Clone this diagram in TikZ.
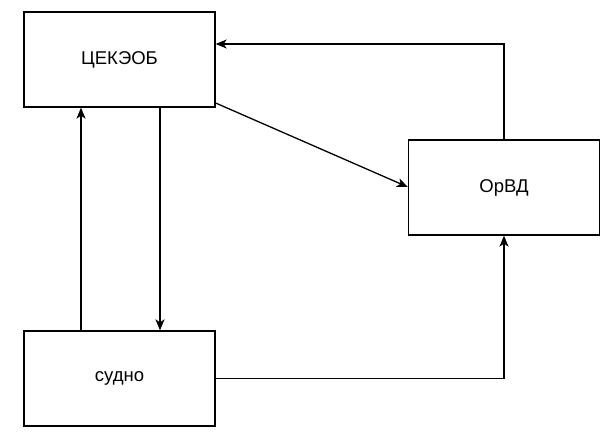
\documentclass[tikz,border=0pt]{standalone}
\usepackage{fontspec}
\setmainfont{Liberation Sans}
\usetikzlibrary{positioning,arrows.meta}
\begin{document}
\begin{tikzpicture}[x=1pt,y=-1pt,>={Stealth[length=11pt,width=9pt,inset=3pt]},
  blok/.style={draw, line width=1.3pt, minimum width=191pt, minimum height=95pt, inner sep=0pt, font=\fontsize{18.5}{22}\selectfont},
  svyaz/.style={->, line width=1.3pt}]
\useasboundingbox (0,0) rectangle (614,442);

\node[blok](centr) at (119.5,59.5){ЦЕКЭОБ};
\node[blok](orvd) at (504,187.5){ОрВД};
\node[blok](sudno) at (119.5,378.5){судно};

\draw[svyaz](orvd.north)|-(centr.east|-0,44);
\draw[svyaz](centr.east|-0,103)--(orvd.west|-0,187);
\draw[svyaz](centr.south-|160,0)--(sudno.north-|160,0);
\draw[svyaz](sudno.north-|81,0)--(centr.south-|81,0);
\draw[svyaz](sudno.east)-|(orvd.south);
\end{tikzpicture}
\end{document}
